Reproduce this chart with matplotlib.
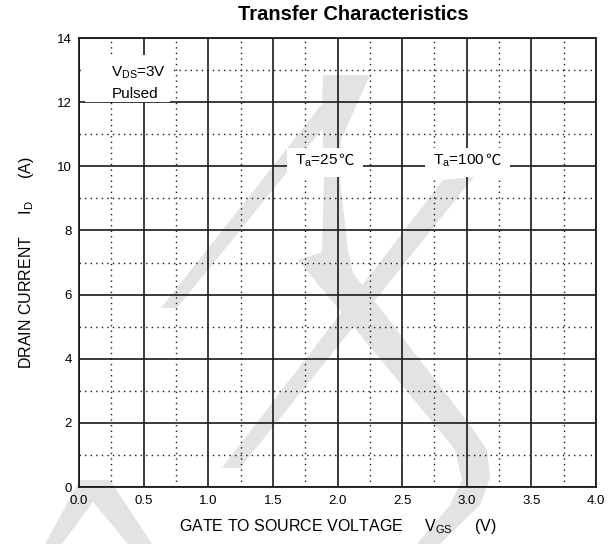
import matplotlib
matplotlib.use('Agg')
import matplotlib.pyplot as plt
from matplotlib.patches import Polygon, Rectangle
from matplotlib.ticker import MultipleLocator, FormatStrFormatter
from matplotlib.transforms import Affine2D

plt.rcParams['font.family'] = ['Liberation Sans', 'DejaVu Sans']
plt.rcParams['mathtext.default'] = 'regular'

# axis ranges and grid steps
vgs_lim = [0.0, 4.0]
id_lim = [0, 14]
vgs_major, vgs_minor = 0.5, 0.25
id_major, id_minor = 2, 1

# condition note and temperature labels
cond_lines = ['$V_{DS}$=3V', 'Pulsed']
cond_vgs = [0.25, 0.25]
cond_id = [12.79, 12.12]
temp_labels = ['$T_a$=25', '$T_a$=100']
temp_vgs = [1.671, 2.739]
temp_id = [10.04, 10.04]
# white backdrops (x0, x1) behind the temperature labels
temp_box_x = [(1.609, 2.197), (2.677, 3.335)]
temp_box_y = (9.67, 10.57)

W, H = 613, 544
fig = plt.figure(figsize=(W / 100, H / 100), dpi=100)
ax = fig.add_axes([79 / W, 1 - 487 / H, (596 - 79) / W, (487 - 38) / H])
ax.set_facecolor('none')

# light grey watermark behind the grid, given in pixel coordinates
px = Affine2D().scale(1 / W, -1 / H).translate(0, 1) + fig.transFigure
wm_shapes = [
    [(161, 308), (177, 308), (336, 112), (322, 104)],
    [(323, 75), (370, 75), (341, 140), (340, 180), (348, 250), (353, 273),
     (470, 425), (487, 450), (490, 478), (480, 505), (440, 544), (417, 544),
     (450, 505), (462, 480), (455, 450), (435, 425), (298, 260), (322, 252),
     (324, 180), (322, 110)],
    [(222, 468), (240, 468), (474, 177), (443, 180)],
    [(45, 544), (80, 480), (110, 480), (152, 544), (128, 544), (93, 502), (62, 544)],
]
for pts in wm_shapes:
    fig.add_artist(Polygon(pts, closed=True, transform=px, facecolor='#e3e3e3',
                           edgecolor='none', zorder=-1))

ax.set_xlim(vgs_lim)
ax.set_ylim(id_lim)
ax.xaxis.set_major_locator(MultipleLocator(vgs_major))
ax.xaxis.set_minor_locator(MultipleLocator(vgs_minor))
ax.yaxis.set_major_locator(MultipleLocator(id_major))
ax.yaxis.set_minor_locator(MultipleLocator(id_minor))
ax.xaxis.set_major_formatter(FormatStrFormatter('%.1f'))
ax.grid(which='major', color='#1a1a1a', linewidth=1.2)
ax.grid(which='minor', color='#1a1a1a', linewidth=1.0, linestyle=(0, (1, 3)))
ax.tick_params(which='both', length=0, labelsize=9.5)
ax.tick_params(axis='x', pad=6)
ax.tick_params(axis='y', pad=5)
for s in ax.spines.values():
    s.set_linewidth(1.3)
    s.set_color('#1a1a1a')

ax.set_xlabel('GATE TO SOURCE VOLTAGE     $V_{GS}$     (V)', fontsize=11.5)
ax.set_ylabel('DRAIN CURRENT     $I_D$     (A)', fontsize=11.5)
ax.xaxis.set_label_coords(0.5, -0.066)
ax.yaxis.set_label_coords(-0.083, 0.5)

fig.text(353 / W, 1 - 15 / H, 'Transfer Characteristics', ha='center', va='center',
         fontsize=14.5, fontweight='bold')

# white backdrop behind the test condition note
ax.add_patch(Rectangle((0.046, 12.0), 0.66, 1.47, facecolor='white', edgecolor='none', zorder=3))
for txt, x, y in zip(cond_lines, cond_vgs, cond_id):
    ax.text(x, y, txt, ha='left', va='baseline', fontsize=11, zorder=4)

for txt, x, y, (bx0, bx1) in zip(temp_labels, temp_vgs, temp_id, temp_box_x):
    ax.add_patch(Rectangle((bx0, temp_box_y[0]), bx1 - bx0, temp_box_y[1] - temp_box_y[0],
                           facecolor='white', edgecolor='none', zorder=3))
    t = ax.text(x, y, txt, ha='left', va='baseline', fontsize=11, zorder=4)
    # degree sign taken from a CJK face, set right after the number
    ax.annotate('℃', xy=(1, 1), xycoords=t, xytext=(0.5, 0.8), textcoords='offset points',
                ha='left', va='top', fontsize=11, family=['Noto Sans CJK SC'], zorder=4)

fig.savefig('out.png', dpi=100)
